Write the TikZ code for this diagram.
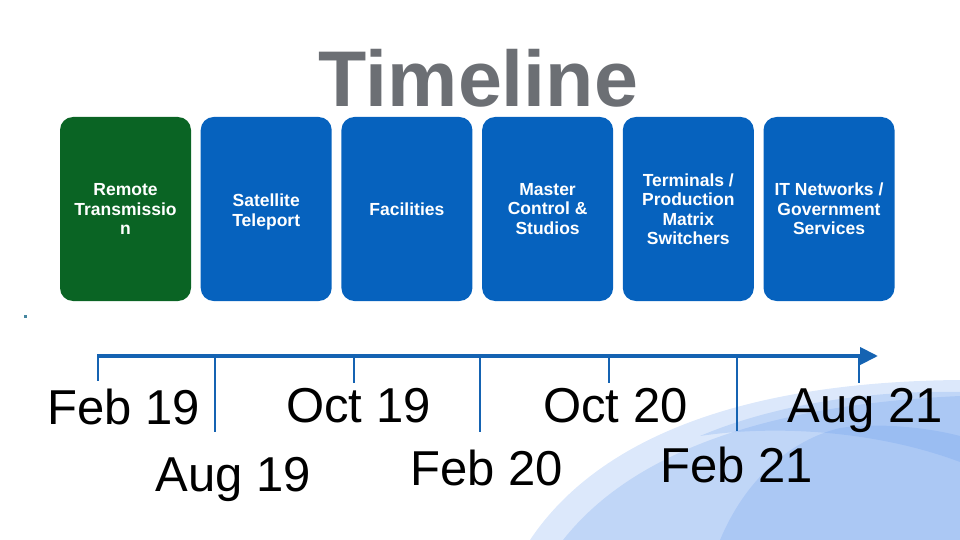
\documentclass[tikz,border=0pt]{standalone}
\usepackage{fontspec}
\setmainfont{Liberation Sans}
\usetikzlibrary{arrows.meta}
\definecolor{boxgreen}{RGB}{10,100,36}
\definecolor{boxblue}{RGB}{6,98,190}
\definecolor{titlegray}{RGB}{108,111,116}
\definecolor{axisblue}{RGB}{21,99,178}
\definecolor{swoosh}{RGB}{95,150,235}
\definecolor{dotteal}{RGB}{70,135,160}
\tikzset{
  card/.style={rounded corners=13pt, minimum width=131pt, minimum height=184pt,
    inner sep=0pt},
  cardtext/.style={inner sep=0pt, text=white, align=center,
    font=\bfseries\fontsize{17.5}{19.5}\selectfont},
  datelabel/.style={anchor=base, inner sep=0pt, font=\fontsize{49}{49}\selectfont},
  axisline/.style={draw=axisblue, line width=4pt},
  tickline/.style={draw=axisblue, line width=2.6pt},
  swooshlayer/.style={fill=swoosh, fill opacity=0.22, draw=none}
}
\begin{document}
\begin{tikzpicture}[x=1pt,y=-1pt]
\useasboundingbox (0,0) rectangle (960,540);
% background swoosh
\fill[swooshlayer] (530,540) .. controls (590,450) and (720,382) .. (960,380) -- (960,540) -- cycle;
\fill[swooshlayer] (563,540) .. controls (630,455) and (760,405) .. (960,396) -- (960,540) -- cycle;
\fill[swooshlayer] (700,436) .. controls (780,402) and (880,390) .. (960,392) -- (960,462) .. controls (880,432) and (780,424) .. (700,436) -- cycle;
\fill[swooshlayer] (720,540) .. controls (745,480) and (790,440) .. (840,428) .. controls (880,422) and (930,428) .. (960,436) -- (960,540) -- cycle;
% title
\node[anchor=base, inner sep=0pt, text=titlegray, font=\bfseries\fontsize{79}{79}\selectfont] (title) at (478.5,107) {Timeline};
% cards
\node[card, fill=boxgreen] (c1) at (125.5,209) {};
\node[card, fill=boxblue] (c2) at (266.2,209) {};
\node[card, fill=boxblue] (c3) at (406.9,209) {};
\node[card, fill=boxblue] (c4) at (547.6,209) {};
\node[card, fill=boxblue] (c5) at (688.3,209) {};
\node[card, fill=boxblue] (c6) at (829,209) {};
\node[cardtext] (l1) at (125.5,209) {Remote\\Transmissio\\n};
\node[cardtext] (l2) at (266.2,212) {Satellite\\Teleport};
\node[cardtext] (l3) at (406.9,209.5) {Facilities};
\node[cardtext] (l4) at (547.6,209) {Master\\Control \&\\Studios};
\node[cardtext] (l5) at (688.3,209) {Terminals /\\Production\\Matrix\\Switchers};
\node[cardtext] (l6) at (829,209) {IT Networks /\\Government\\Services};
% small dot
\fill[dotteal] (23.5,314.5) rectangle (26.5,317.5);
% axis
\coordinate (a0) at (97,356);
\coordinate (a1) at (878,356);
\draw[axisline, -{Triangle[length=18pt,width=17pt]}] (a0) -- (a1);
% ticks
\foreach \x/\y [count=\i] in {98/381, 215/432, 354/383, 480/432, 609/383, 737/431, 859/383}{
  \coordinate (tt\i) at (\x,354.5);
  \coordinate (tb\i) at (\x,\y);
  \draw[tickline] (tt\i) -- (tb\i);
}
% dates
\node[datelabel] (d1) at (124,424) {Feb 19};
\node[datelabel] (d2) at (233.5,491) {Aug 19};
\node[datelabel] (d3) at (358.5,422) {Oct 19};
\node[datelabel] (d4) at (487,485) {Feb 20};
\node[datelabel] (d5) at (615.5,422) {Oct 20};
\node[datelabel] (d6) at (737,482) {Feb 21};
\node[datelabel] (d7) at (865,422) {Aug 21};
\end{tikzpicture}
\end{document}
